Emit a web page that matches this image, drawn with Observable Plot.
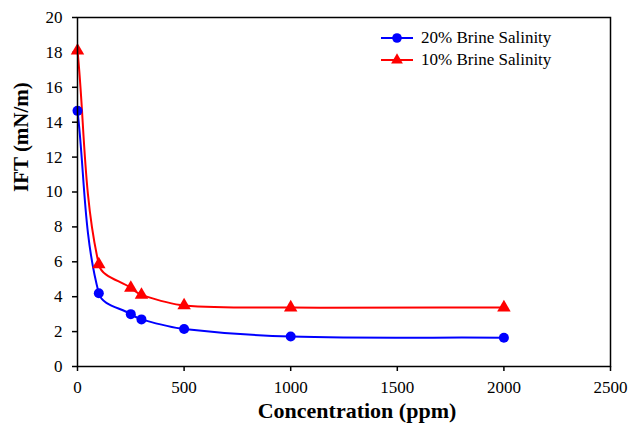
<!DOCTYPE html>
<html>
<head>
<meta charset="utf-8">
<script src="https://cdn.jsdelivr.net/npm/d3@7"></script>
<script src="https://cdn.jsdelivr.net/npm/@observablehq/plot@0.6"></script>
<style>
  body { margin: 0; background: #fff; }
  #wrap { position: relative; width: 628px; height: 431px; font-family: "Liberation Serif", serif; }
  #legend { position: absolute; left: 381px; top: 27px; font-size: 17px; color: #000; font-family: "Liberation Serif", serif; }
  #legend .row { display: flex; align-items: center; height: 22px; line-height: 22px; }
  #legend svg { margin-right: 8px; }
</style>
</head>
<body>
<div id="wrap"><div id="legend"></div></div>
<script>
const concentration = [0, 100, 250, 300, 500, 1000, 2000];
const ift20 = [14.65, 4.2, 3.0, 2.7, 2.15, 1.72, 1.65];
const ift10 = [18.1, 5.85, 4.5, 4.1, 3.5, 3.38, 3.38];
const seriesNames = ["20% Brine Salinity", "10% Brine Salinity"];
const seriesColors = ["#0000ff", "#ff0000"];
const seriesSymbols = ["circle", "triangle"];
const xTicks = [0, 500, 1000, 1500, 2000, 2500];
const yTicks = [0, 2, 4, 6, 8, 10, 12, 14, 16, 18, 20];
const xLabel = "Concentration (ppm)";
const yLabel = "IFT (mN/m)";

const data = [];
[ift20, ift10].forEach((vals, s) => {
  concentration.forEach((c, i) => data.push({series: seriesNames[s], x: c, y: vals[i]}));
});

// Smoothed curve similar to spreadsheet "smoothed line": chord-scaled Catmull-Rom tangents
function SmoothCurve(context) { this._context = context; }
SmoothCurve.prototype = {
  areaStart() { this._line = 0; },
  areaEnd() { this._line = NaN; },
  lineStart() { this._x = []; this._y = []; },
  point(x, y) { this._x.push(+x); this._y.push(+y); },
  lineEnd() {
    const x = this._x, y = this._y, n = x.length, ctx = this._context;
    if (n) {
      this._line ? ctx.lineTo(x[0], y[0]) : ctx.moveTo(x[0], y[0]);
      if (n === 2) ctx.lineTo(x[1], y[1]);
      else if (n > 2) {
        const tx = [], ty = [];
        for (let i = 0; i < n; i++) {
          const a = Math.max(0, i - 1), b = Math.min(n - 1, i + 1);
          let dx = x[b] - x[a], dy = y[b] - y[a];
          const L = Math.hypot(dx, dy) || 1;
          tx.push(dx / L); ty.push(dy / L);
        }
        const k = 1 / 3;
        for (let i = 0; i < n - 1; i++) {
          const d = Math.hypot(x[i + 1] - x[i], y[i + 1] - y[i]) * k;
          ctx.bezierCurveTo(x[i] + tx[i] * d, y[i] + ty[i] * d,
                            x[i + 1] - tx[i + 1] * d, y[i + 1] - ty[i + 1] * d,
                            x[i + 1], y[i + 1]);
        }
      }
    }
    if (this._line || (this._line !== 0 && n === 1)) ctx.closePath();
    this._line = 1 - this._line;
    this._x = this._y = null;
  }
};
const smoothCurve = (context) => new SmoothCurve(context);

const chart = Plot.plot({
  width: 628,
  height: 431,
  marginLeft: 77,
  marginRight: 18,
  marginTop: 17,
  marginBottom: 65,
  style: {fontSize: "17px", fontFamily: "Liberation Serif, serif", color: "#000", background: "#fff"},
  x: {domain: [0, 2500]},
  y: {domain: [0, 20]},
  color: {domain: seriesNames, range: seriesColors},
  symbol: {domain: seriesNames, range: seriesSymbols},
  marks: [
    Plot.axisX({ticks: xTicks, tickSize: 5, tickPadding: 9, tickFormat: d => String(d), fontSize: 17,
      label: null, strokeWidth: 1.5}),
    Plot.axisY({ticks: yTicks, tickSize: 5, tickPadding: 10, tickFormat: d => String(d), fontSize: 17,
      label: null, strokeWidth: 1.5}),
    Plot.text([xLabel], {text: d => d, frameAnchor: "bottom", dx: 13, dy: 51, fontSize: 22, fontWeight: "bold", fill: "#000"}),
    Plot.text([yLabel], {text: d => d, frameAnchor: "left", rotate: -90, dx: -56, fontSize: 21, fontWeight: "bold", fill: "#000"}),
    Plot.line(data, {x: "x", y: "y", z: "series", stroke: "series", strokeWidth: 2, curve: smoothCurve}),
    Plot.dot(data, {x: "x", y: "y", fill: "series", symbol: "series", r: 5, stroke: "none"}),
    Plot.frame({stroke: "#000", strokeWidth: 1.5})
  ]
});
document.getElementById("wrap").appendChild(chart);

const legend = document.getElementById("legend");
seriesNames.forEach((name, i) => {
  const row = document.createElement("div");
  row.className = "row";
  const marker = seriesSymbols[i] === "circle"
    ? `<circle cx="16" cy="7" r="4.8" fill="${seriesColors[i]}"/>`
    : `<path d="${d3.symbol(d3.symbolTriangle, 60)()}" transform="translate(16,7)" fill="${seriesColors[i]}"/>`;
  row.innerHTML = `<svg width="32" height="14"><line x1="0" x2="32" y1="7" y2="7" stroke="${seriesColors[i]}" stroke-width="2"/>${marker}</svg><span>${name}</span>`;
  legend.appendChild(row);
});
</script>
</body>
</html>
